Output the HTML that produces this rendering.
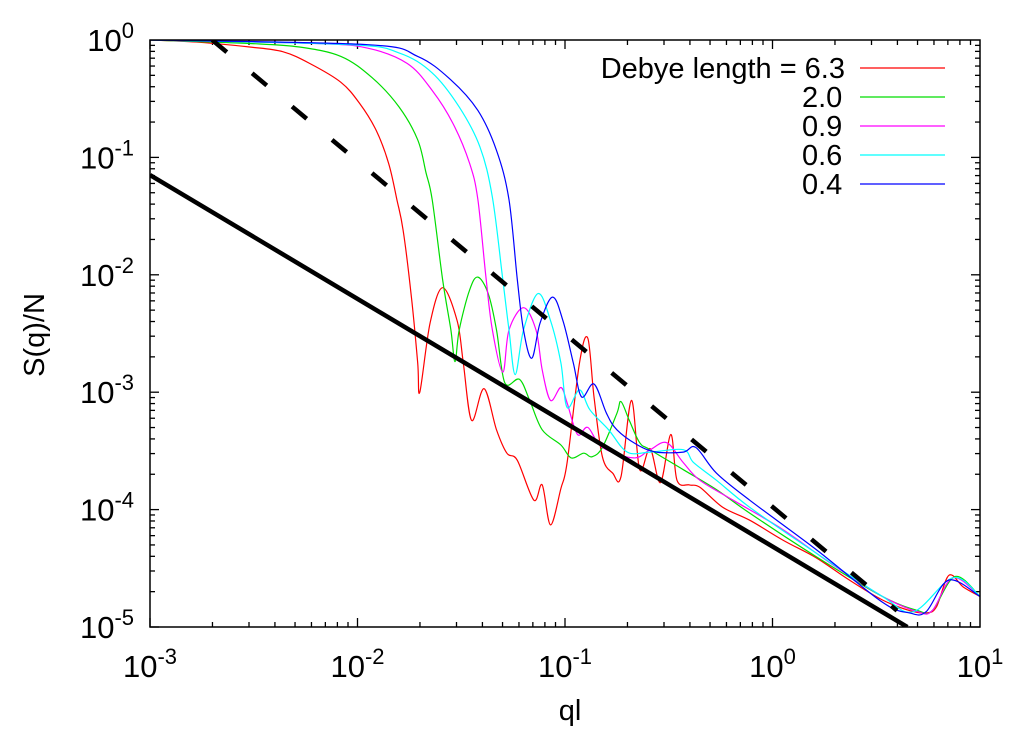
<!DOCTYPE html>
<html><head><meta charset="utf-8"><style>
html,body{margin:0;padding:0;background:#fff;}
svg{display:block;font-family:"Liberation Sans",sans-serif;}
</style></head><body>
<svg id="chart" width="1024" height="746"></svg>
<script>
// data (log10 values)
const xTickExps = [-3, -2, -1, 0, 1];
const yTickExps = [0, -1, -2, -3, -4, -5];
const seriesLabels = ["Debye length = 6.3", "2.0", "0.9", "0.6", "0.4"];
const seriesColors = ["#ff0000", "#00dd00", "#ff00ff", "#00ffff", "#0000ff"];
const redLogQ = [-3.00,-2.76,-2.52,-2.36,-2.23,-2.08,-1.99,-1.91,-1.85,-1.81,-1.78,-1.74,-1.71,-1.70,-1.65,-1.59,-1.52,-1.49,-1.45,-1.39,-1.33,-1.28,-1.23,-1.15,-1.11,-1.07,-1.02,-0.99,-0.93,-0.89,-0.86,-0.82,-0.77,-0.73,-0.68,-0.64,-0.59,-0.54,-0.49,-0.46,-0.40,-0.35,-0.24,-0.11,0.05,0.21,0.37,0.53,0.66,0.74,0.79,0.85,0.92,1.00];
const redLogS = [0,-0.02,-0.06,-0.10,-0.20,-0.36,-0.54,-0.77,-1.05,-1.36,-1.62,-2.19,-2.75,-3.00,-2.41,-2.11,-2.39,-2.75,-3.24,-2.97,-3.32,-3.52,-3.58,-3.92,-3.79,-4.13,-3.82,-3.60,-2.75,-2.54,-3.04,-3.55,-3.69,-3.72,-3.07,-3.66,-3.48,-3.77,-3.36,-3.75,-3.79,-3.81,-3.98,-4.09,-4.26,-4.41,-4.60,-4.77,-4.86,-4.88,-4.83,-4.56,-4.66,-4.74];
const greenLogQ = [-3,-2.52,-2.28,-2.08,-1.93,-1.80,-1.71,-1.67,-1.64,-1.59,-1.55,-1.53,-1.51,-1.46,-1.42,-1.37,-1.33,-1.29,-1.22,-1.17,-1.11,-1.02,-0.97,-0.91,-0.87,-0.82,-0.75,-0.73,-0.69,-0.64,-0.59,-0.43,-0.27,-0.11,0.21,0.53,0.70,0.77,0.88,1.00];
const greenLogS = [0,-0.03,-0.06,-0.14,-0.32,-0.57,-0.85,-1.13,-1.36,-2.04,-2.47,-2.74,-2.47,-2.13,-2.02,-2.16,-2.47,-2.92,-2.89,-3.07,-3.32,-3.45,-3.56,-3.52,-3.55,-3.47,-3.18,-3.08,-3.24,-3.43,-3.49,-3.66,-3.83,-4.03,-4.40,-4.74,-4.86,-4.86,-4.57,-4.74];
const magentaLogQ = [-3,-2.20,-1.95,-1.76,-1.64,-1.54,-1.46,-1.42,-1.38,-1.35,-1.30,-1.27,-1.20,-1.14,-1.11,-1.07,-1.02,-0.99,-0.94,-0.89,-0.82,-0.67,-0.59,-0.51,-0.43,-0.35,-0.19,0.05,0.29,0.53,0.70,0.77,0.87,1.00];
const magentaLogS = [0,-0.03,-0.07,-0.20,-0.43,-0.71,-1.05,-1.36,-2.04,-2.47,-2.83,-2.47,-2.28,-2.47,-2.81,-3.07,-2.96,-3.09,-3.36,-3.30,-3.47,-3.56,-3.49,-3.43,-3.60,-3.75,-3.92,-4.17,-4.47,-4.74,-4.87,-4.86,-4.58,-4.74];
const cyanLogQ = [-3,-2.04,-1.80,-1.64,-1.51,-1.41,-1.35,-1.30,-1.27,-1.24,-1.20,-1.13,-1.07,-1.02,-0.99,-0.93,-0.88,-0.79,-0.70,-0.59,-0.43,-0.38,-0.27,-0.11,0.21,0.53,0.68,0.87,1.00];
const cyanLogS = [0,-0.04,-0.11,-0.28,-0.57,-0.91,-1.34,-2.04,-2.47,-2.85,-2.47,-2.16,-2.39,-2.75,-3.13,-2.98,-3.15,-3.32,-3.51,-3.51,-3.49,-3.60,-3.75,-3.98,-4.37,-4.74,-4.87,-4.58,-4.74];
const blueLogQ = [-3,-1.95,-1.71,-1.55,-1.42,-1.33,-1.27,-1.23,-1.20,-1.16,-1.12,-1.06,-1.01,-0.96,-0.92,-0.86,-0.80,-0.75,-0.65,-0.56,-0.43,-0.37,-0.27,-0.11,0.21,0.53,0.66,0.74,0.85,1.00];
const blueLogS = [0,-0.04,-0.14,-0.34,-0.60,-0.94,-1.36,-2.04,-2.47,-2.71,-2.41,-2.19,-2.39,-2.75,-3.04,-2.93,-3.18,-3.32,-3.45,-3.51,-3.51,-3.47,-3.69,-3.92,-4.34,-4.79,-4.88,-4.87,-4.60,-4.74];
const solidLogQ = [-3, 0.65];
const solidLogS = [-1.15, -5];
const dashedLogQ = [-2.7, 0.6];
const dashedLogS = [0, -4.86];

const NS = "http://www.w3.org/2000/svg";
const svg = document.getElementById('chart');
const L = 150, R = 980, T = 40, B = 627;
const xScale = lq => L + (lq + 3) / 4 * (R - L);
const yScale = ls => T + (-ls) / 5 * (B - T);
function mk(tag, attrs, parent) {
  const e = document.createElementNS(NS, tag);
  for (const k in attrs) e.setAttribute(k, attrs[k]);
  (parent || svg).appendChild(e);
  return e;
}
const defs = mk('defs', {});
const cp = mk('clipPath', {id: 'clip'}, defs);
mk('rect', {x: L, y: T, width: R - L, height: B - T}, cp);

// ticks
const ticks = mk('g', {stroke: '#000', 'stroke-width': 1.3});


for (let d = -3; d < 1; d++) for (let m = 1; m <= 9; m++) {
  const x = xScale(d + Math.log10(m)); const len = m === 1 ? 9 : 5;
  mk('line', {x1: x, x2: x, y1: B, y2: B - len}, ticks);
  mk('line', {x1: x, x2: x, y1: T, y2: T + len}, ticks);
}
for (let d = -5; d < 0; d++) for (let m = 1; m <= 9; m++) {
  const y = yScale(d + Math.log10(m)); const len = m === 1 ? 9 : 5;
  mk('line', {x1: L, x2: L + len, y1: y, y2: y}, ticks);
  mk('line', {x1: R, x2: R - len, y1: y, y2: y}, ticks);
}
// tick labels
xTickExps.forEach(e => {
  const t = mk('text', {x: xScale(e), y: 677, 'font-size': 31, 'text-anchor': 'middle'});
  
  
  t.innerHTML = '10<tspan dy="-13" font-size="22">' + e + '</tspan>';
});
yTickExps.forEach(e => {
  const t = mk('text', {x: 134, y: yScale(e) + 11, 'font-size': 31, 'text-anchor': 'end'});
  
  
  t.innerHTML = '10<tspan dy="-13" font-size="22">' + e + '</tspan>';
});
// axis titles
const xt = mk('text', {x: 570, y: 720, 'font-size': 29, 'text-anchor': 'middle'});


xt.textContent = 'ql';
const yt = mk('text', {x: 0, y: 0, 'font-size': 29, 'text-anchor': 'middle', transform: 'translate(44,335) rotate(-90)'});


yt.textContent = 'S(q)/N';

const plot = mk('g', {'clip-path': 'url(#clip)', fill: 'none'});


function pathD(qs, ss) { return qs.map((q, i) => (i ? 'L' : 'M') + xScale(q).toFixed(1) + ' ' + yScale(ss[i]).toFixed(1)).join(' '); }
function smoothD(qs, ss) {
  const p = qs.map((q, i) => [xScale(q), yScale(ss[i])]);
  let d = 'M' + p[0][0].toFixed(1) + ' ' + p[0][1].toFixed(1);
  for (let i = 0; i < p.length - 1; i++) {
    const p0 = p[i - 1] || p[i], p1 = p[i], p2 = p[i + 1], p3 = p[i + 2] || p2;
    const c1 = [p1[0] + (p2[0] - p0[0]) / 6, p1[1] + (p2[1] - p0[1]) / 6];
    const c2 = [p2[0] - (p3[0] - p1[0]) / 6, p2[1] - (p3[1] - p1[1]) / 6];
    d += ' C' + c1.map(v => v.toFixed(1)).join(' ') + ' ' + c2.map(v => v.toFixed(1)).join(' ') + ' ' + p2[0].toFixed(1) + ' ' + p2[1].toFixed(1);
  }
  return d;
}
const series = [[redLogQ, redLogS], [greenLogQ, greenLogS], [magentaLogQ, magentaLogS], [cyanLogQ, cyanLogS], [blueLogQ, blueLogS]];
series.forEach((s, i) => {
  const p = mk('path', {d: smoothD(s[0], s[1]), stroke: seriesColors[i], 'stroke-width': 1.2, 'stroke-linejoin': 'round'}, plot);
  
  
});
const sl = mk('path', {d: pathD(solidLogQ, solidLogS), stroke: '#000', 'stroke-width': 4.5}, plot);


const dl = mk('path', {d: pathD(dashedLogQ, dashedLogS), stroke: '#000', 'stroke-width': 4.5, 'stroke-dasharray': '19 33'}, plot);



// frame
const fr = mk('rect', {x: L, y: T, width: R - L, height: B - T, fill: 'none', stroke: '#000', 'stroke-width': 1.5});



// legend
seriesLabels.forEach((lab, i) => {
  const y = 68 + i * 29;
  const g = mk('g', {});
  
  
  const t = mk('text', {x: i === 0 ? 845 : 802, y: y + 10, 'font-size': 29, 'text-anchor': i === 0 ? 'end' : 'start'}, g);
  t.textContent = lab;
  mk('line', {x1: 860, x2: 945, y1: y, y2: y, stroke: seriesColors[i], 'stroke-width': 1.2}, g);
});
</script>
</body></html>
